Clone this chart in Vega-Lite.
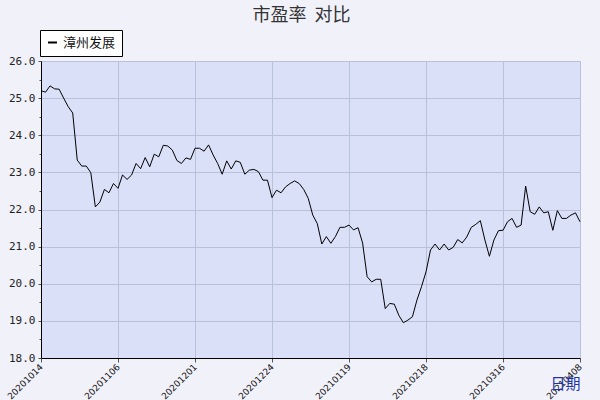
{
  "$schema": "https://vega.github.io/schema/vega-lite/v6.json",
  "width": 539,
  "height": 297,
  "autosize": "none",
  "padding": {"left": 41, "top": 61, "right": 20, "bottom": 42},
  "background": "#f1f1fa",
  "title": {"text": "市盈率\u00a0\u00a0对比", "fontSize": 18, "font": "Noto Sans CJK SC", "fontWeight": "normal", "color": "#333333", "offset": 5, "anchor": "middle", "frame": "group", "dx": -9},
  "config": {"view": {"fill": "#d9e0f8", "stroke": "#b8c0d8"}},
  "data": {"values": [
    {"date": "20201014", "pe": 25.2, "name": "漳州发展"},
    {"date": "20201015", "pe": 25.16, "name": "漳州发展"},
    {"date": "20201016", "pe": 25.33, "name": "漳州发展"},
    {"date": "20201019", "pe": 25.25, "name": "漳州发展"},
    {"date": "20201020", "pe": 25.24, "name": "漳州发展"},
    {"date": "20201021", "pe": 25.0, "name": "漳州发展"},
    {"date": "20201022", "pe": 24.77, "name": "漳州发展"},
    {"date": "20201023", "pe": 24.6, "name": "漳州发展"},
    {"date": "20201026", "pe": 23.33, "name": "漳州发展"},
    {"date": "20201027", "pe": 23.17, "name": "漳州发展"},
    {"date": "20201028", "pe": 23.17, "name": "漳州发展"},
    {"date": "20201029", "pe": 22.99, "name": "漳州发展"},
    {"date": "20201030", "pe": 22.07, "name": "漳州发展"},
    {"date": "20201102", "pe": 22.2, "name": "漳州发展"},
    {"date": "20201103", "pe": 22.54, "name": "漳州发展"},
    {"date": "20201104", "pe": 22.45, "name": "漳州发展"},
    {"date": "20201105", "pe": 22.7, "name": "漳州发展"},
    {"date": "20201106", "pe": 22.57, "name": "漳州发展"},
    {"date": "20201109", "pe": 22.93, "name": "漳州发展"},
    {"date": "20201110", "pe": 22.81, "name": "漳州发展"},
    {"date": "20201111", "pe": 22.93, "name": "漳州发展"},
    {"date": "20201112", "pe": 23.24, "name": "漳州发展"},
    {"date": "20201113", "pe": 23.1, "name": "漳州发展"},
    {"date": "20201116", "pe": 23.4, "name": "漳州发展"},
    {"date": "20201117", "pe": 23.15, "name": "漳州发展"},
    {"date": "20201118", "pe": 23.49, "name": "漳州发展"},
    {"date": "20201119", "pe": 23.42, "name": "漳州发展"},
    {"date": "20201120", "pe": 23.73, "name": "漳州发展"},
    {"date": "20201123", "pe": 23.71, "name": "漳州发展"},
    {"date": "20201124", "pe": 23.6, "name": "漳州发展"},
    {"date": "20201125", "pe": 23.32, "name": "漳州发展"},
    {"date": "20201126", "pe": 23.24, "name": "漳州发展"},
    {"date": "20201127", "pe": 23.39, "name": "漳州发展"},
    {"date": "20201130", "pe": 23.35, "name": "漳州发展"},
    {"date": "20201201", "pe": 23.65, "name": "漳州发展"},
    {"date": "20201202", "pe": 23.65, "name": "漳州发展"},
    {"date": "20201203", "pe": 23.57, "name": "漳州发展"},
    {"date": "20201204", "pe": 23.74, "name": "漳州发展"},
    {"date": "20201207", "pe": 23.47, "name": "漳州发展"},
    {"date": "20201208", "pe": 23.24, "name": "漳州发展"},
    {"date": "20201209", "pe": 22.95, "name": "漳州发展"},
    {"date": "20201210", "pe": 23.31, "name": "漳州发展"},
    {"date": "20201211", "pe": 23.09, "name": "漳州发展"},
    {"date": "20201214", "pe": 23.31, "name": "漳州发展"},
    {"date": "20201215", "pe": 23.27, "name": "漳州发展"},
    {"date": "20201216", "pe": 22.95, "name": "漳州发展"},
    {"date": "20201217", "pe": 23.06, "name": "漳州发展"},
    {"date": "20201218", "pe": 23.08, "name": "漳州发展"},
    {"date": "20201221", "pe": 23.02, "name": "漳州发展"},
    {"date": "20201222", "pe": 22.79, "name": "漳州发展"},
    {"date": "20201223", "pe": 22.79, "name": "漳州发展"},
    {"date": "20201224", "pe": 22.32, "name": "漳州发展"},
    {"date": "20201225", "pe": 22.52, "name": "漳州发展"},
    {"date": "20201228", "pe": 22.45, "name": "漳州发展"},
    {"date": "20201229", "pe": 22.61, "name": "漳州发展"},
    {"date": "20201230", "pe": 22.7, "name": "漳州发展"},
    {"date": "20201231", "pe": 22.77, "name": "漳州发展"},
    {"date": "20210104", "pe": 22.7, "name": "漳州发展"},
    {"date": "20210105", "pe": 22.54, "name": "漳州发展"},
    {"date": "20210106", "pe": 22.3, "name": "漳州发展"},
    {"date": "20210107", "pe": 21.85, "name": "漳州发展"},
    {"date": "20210108", "pe": 21.62, "name": "漳州发展"},
    {"date": "20210111", "pe": 21.07, "name": "漳州发展"},
    {"date": "20210112", "pe": 21.27, "name": "漳州发展"},
    {"date": "20210113", "pe": 21.09, "name": "漳州发展"},
    {"date": "20210114", "pe": 21.27, "name": "漳州发展"},
    {"date": "20210115", "pe": 21.52, "name": "漳州发展"},
    {"date": "20210118", "pe": 21.52, "name": "漳州发展"},
    {"date": "20210119", "pe": 21.58, "name": "漳州发展"},
    {"date": "20210120", "pe": 21.45, "name": "漳州发展"},
    {"date": "20210121", "pe": 21.51, "name": "漳州发展"},
    {"date": "20210122", "pe": 21.1, "name": "漳州发展"},
    {"date": "20210125", "pe": 20.19, "name": "漳州发展"},
    {"date": "20210126", "pe": 20.05, "name": "漳州发展"},
    {"date": "20210127", "pe": 20.12, "name": "漳州发展"},
    {"date": "20210128", "pe": 20.12, "name": "漳州发展"},
    {"date": "20210129", "pe": 19.33, "name": "漳州发展"},
    {"date": "20210201", "pe": 19.47, "name": "漳州发展"},
    {"date": "20210202", "pe": 19.45, "name": "漳州发展"},
    {"date": "20210203", "pe": 19.15, "name": "漳州发展"},
    {"date": "20210204", "pe": 18.95, "name": "漳州发展"},
    {"date": "20210205", "pe": 19.02, "name": "漳州发展"},
    {"date": "20210208", "pe": 19.11, "name": "漳州发展"},
    {"date": "20210209", "pe": 19.56, "name": "漳州发展"},
    {"date": "20210210", "pe": 19.92, "name": "漳州发展"},
    {"date": "20210218", "pe": 20.32, "name": "漳州发展"},
    {"date": "20210219", "pe": 20.91, "name": "漳州发展"},
    {"date": "20210222", "pe": 21.07, "name": "漳州发展"},
    {"date": "20210223", "pe": 20.91, "name": "漳州发展"},
    {"date": "20210224", "pe": 21.07, "name": "漳州发展"},
    {"date": "20210225", "pe": 20.91, "name": "漳州发展"},
    {"date": "20210226", "pe": 20.98, "name": "漳州发展"},
    {"date": "20210301", "pe": 21.19, "name": "漳州发展"},
    {"date": "20210302", "pe": 21.1, "name": "漳州发展"},
    {"date": "20210303", "pe": 21.26, "name": "漳州发展"},
    {"date": "20210304", "pe": 21.52, "name": "漳州发展"},
    {"date": "20210305", "pe": 21.6, "name": "漳州发展"},
    {"date": "20210308", "pe": 21.7, "name": "漳州发展"},
    {"date": "20210309", "pe": 21.18, "name": "漳州发展"},
    {"date": "20210310", "pe": 20.74, "name": "漳州发展"},
    {"date": "20210311", "pe": 21.18, "name": "漳州发展"},
    {"date": "20210312", "pe": 21.43, "name": "漳州发展"},
    {"date": "20210316", "pe": 21.44, "name": "漳州发展"},
    {"date": "20210317", "pe": 21.67, "name": "漳州发展"},
    {"date": "20210318", "pe": 21.76, "name": "漳州发展"},
    {"date": "20210319", "pe": 21.52, "name": "漳州发展"},
    {"date": "20210322", "pe": 21.58, "name": "漳州发展"},
    {"date": "20210323", "pe": 22.63, "name": "漳州发展"},
    {"date": "20210324", "pe": 21.94, "name": "漳州发展"},
    {"date": "20210325", "pe": 21.87, "name": "漳州发展"},
    {"date": "20210326", "pe": 22.07, "name": "漳州发展"},
    {"date": "20210329", "pe": 21.91, "name": "漳州发展"},
    {"date": "20210330", "pe": 21.94, "name": "漳州发展"},
    {"date": "20210331", "pe": 21.44, "name": "漳州发展"},
    {"date": "20210401", "pe": 21.97, "name": "漳州发展"},
    {"date": "20210402", "pe": 21.76, "name": "漳州发展"},
    {"date": "20210405", "pe": 21.76, "name": "漳州发展"},
    {"date": "20210406", "pe": 21.85, "name": "漳州发展"},
    {"date": "20210407", "pe": 21.91, "name": "漳州发展"},
    {"date": "20210408", "pe": 21.67, "name": "漳州发展"}
  ]},
  "mark": {"type": "line", "strokeWidth": 1},
  "encoding": {
    "x": {
      "field": "date", "type": "ordinal", "sort": null,
      "scale": {"type": "point", "padding": 0},
      "axis": {
        "values": ["20201014", "20201106", "20201201", "20201224", "20210119", "20210218", "20210316", "20210408"],
        "labelAngle": -45, "labelAlign": "right", "labelBaseline": "middle",
        "labelFont": "DejaVu Sans", "labelFontSize": 9, "labelColor": "#111111", "labelPadding": 3,
        "domainColor": "#000000", "tickColor": "#555555", "tickSize": 4,
        "grid": true, "gridColor": "#b9c1da",
        "title": "日期", "titleColor": "#2233aa", "titleFont": "Noto Sans CJK SC", "titleFontSize": 15, "titleFontWeight": "normal",
        "titleAnchor": "end", "titleAlign": "right", "titleBaseline": "alphabetic", "titleX": 539, "titleY": 30, "titleAngle": 0
      }
    },
    "y": {
      "field": "pe", "type": "quantitative",
      "scale": {"domain": [18, 26], "zero": false, "nice": false},
      "axis": {
        "values": [18, 18.5, 19, 19.5, 20, 20.5, 21, 21.5, 22, 22.5, 23, 23.5, 24, 24.5, 25, 25.5, 26],
        "format": ".1f",
        "labelExpr": "datum.value % 1 ? '' : datum.label",
        "labelFont": "DejaVu Sans Mono", "labelFontSize": 11, "labelColor": "#222222", "labelPadding": 3,
        "domainColor": "#000000", "tickColor": "#555555",
        "tickSize": {"condition": {"test": "datum.value % 1", "value": 2}, "value": 3},
        "grid": true, "gridColor": "#b9c1da",
        "gridOpacity": {"condition": {"test": "datum.value % 1", "value": 0}, "value": 1},
        "title": null
      }
    },
    "color": {
      "field": "name", "type": "nominal",
      "scale": {"range": ["#000000"]},
      "legend": {
        "orient": "none", "legendX": -1, "legendY": -31, "title": null,
        "fillColor": "#ffffff", "strokeColor": "#000000", "padding": 6,
        "symbolType": "stroke", "symbolSize": 80, "symbolStrokeWidth": 2,
        "labelFont": "Noto Sans CJK SC", "labelFontSize": 13, "labelColor": "#111111"
      }
    }
  }
}
